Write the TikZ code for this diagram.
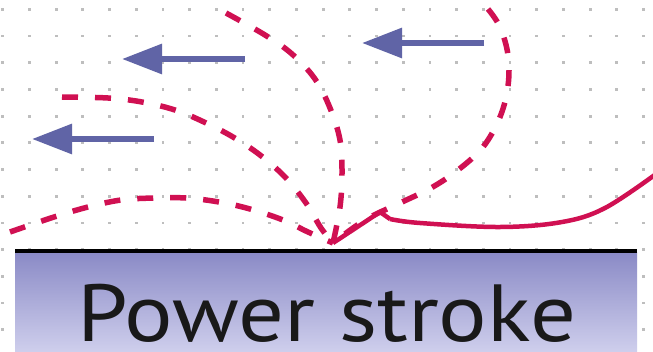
\documentclass[tikz,border=0pt]{standalone}
\usepackage{fontspec}
\setmainfont{PT Sans}
\usetikzlibrary{arrows.meta}
\definecolor{cilred}{RGB}{208,16,82}
\definecolor{flowblue}{RGB}{96,100,166}
\definecolor{dotgrey}{RGB}{190,190,190}
\definecolor{bandtop}{RGB}{138,138,198}
\definecolor{bandbot}{RGB}{206,206,236}
\begin{document}
\begin{tikzpicture}[x=1pt,y=-1pt,
  beat/.style={cilred, line width=5.5pt, dash pattern=on 16pt off 17pt},
  stroke/.style={cilred, line width=4.5pt, line join=miter},
  flow/.style={flowblue, line width=6pt, -{Triangle[length=40pt,width=29pt]}}]
\useasboundingbox (0,0) rectangle (653,351);
\fill[white] (0,0) rectangle (653,351);
% dotted grid
\foreach \i in {0,...,24}
  \foreach \j in {0,...,12}
    \fill[dotgrey] ({1.3+26.7*\i},{7.9+26.7*\j}) rectangle +(2.8,2.8);
% surface
\shade[top color=bandtop, bottom color=bandbot] (15,252) rectangle (637,351);
\draw[line width=4.5pt] (15,251) -- (637,251);
\node[anchor=base west, inner sep=0pt, text depth=0pt, xscale=1.12, font=\fontsize{81}{81}\selectfont, text=black!90] (label) at (77,341) {Power stroke};
% flow arrows
\coordinate (f1s) at (245,59);  \coordinate (f1e) at (122,59);
\coordinate (f2s) at (154,139); \coordinate (f2e) at (32,139);
\coordinate (f3s) at (484,43);  \coordinate (f3e) at (362,43);
\draw[flow] (f1s) -- (f1e);
\draw[flow] (f2s) -- (f2e);
\draw[flow] (f3s) -- (f3e);
% cilium positions
\coordinate (hit) at (333,243);
\coordinate (a0) at (226,13);
\coordinate (b0) at (62,97);
\coordinate (c0) at (10,232);
\coordinate (d0) at (488,9);
\coordinate (e0) at (656,174);
\coordinate (kink) at (380,212);
\draw[beat] plot[smooth, tension=0.6] coordinates {(a0) (265,35) (292,54) (315,79) (330,108) (340,140) (342,173) (340,207) (hit)};
\draw[beat] plot[smooth, tension=0.6] coordinates {(b0) (108,98) (142,102) (175,110) (204,122) (233,137) (260,155) (285,177) (306,203) (321,228) (hit)};
\draw[beat] plot[smooth, tension=0.6] coordinates {(c0) (54,217) (88,207) (121,200) (154,198) (186,198) (219,202) (250,209) (283,220) (308,232) (hit)};
\draw[beat] plot[smooth, tension=0.6] coordinates {(d0) (500,27) (508,55) (508,86) (500,117) (483,147) (458,170) (431,188) (400,203) (365,220) (hit)};
\draw[stroke] (hit) -- (kink) -- (390,219)
  plot[smooth, tension=0.6] coordinates {(390,219) (420,223) (500,227) (562,222) (605,208) (e0)};
\end{tikzpicture}
\end{document}
